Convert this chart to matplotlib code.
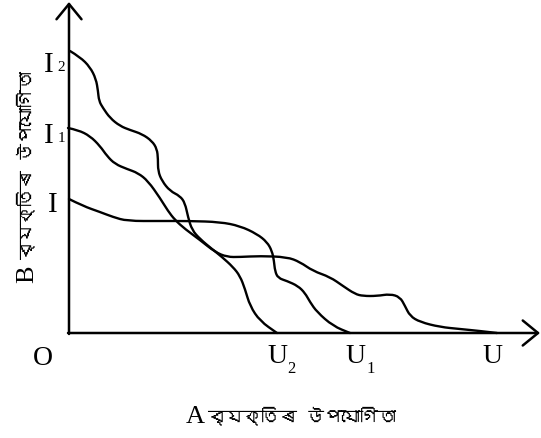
import matplotlib
matplotlib.use("Agg")
import matplotlib.pyplot as plt
from matplotlib import font_manager
from matplotlib.ft2font import FT2Font
from matplotlib.path import Path
from matplotlib.patches import PathPatch

# Indifference curves in utility space: x = utility of A, y = utility of B
curve_I_x = [0, 14, 31, 44, 58, 91, 121, 151, 171, 188, 198, 203, 205, 206, 209, 218, 229, 236, 241, 248, 264, 281]
curve_I_y = [134, 127, 121, 116, 112, 112, 112, 111, 107, 99, 91, 82, 72, 62, 55, 52, 47, 40, 31, 21, 7, 0]

curve_I1_x = [-1, 9, 21, 31, 38, 46, 58, 69, 79, 91, 99, 106, 116, 131, 146, 158, 171, 191, 218, 231, 244, 261,
              274, 286, 294, 308, 321, 331, 336, 341, 351, 371, 391, 411, 428]
curve_I1_y = [205, 203, 197, 187, 177, 169, 164, 160, 152, 135, 122, 113, 104, 93, 81, 76, 76, 77, 76, 71, 62, 56,
              47, 39, 37, 37, 39, 36, 27, 17, 11, 6, 4, 2, 0]

curve_I2_x = [1, 11, 21, 27, 29, 30, 34, 41, 51, 61, 73, 83, 88, 89, 89, 93, 101, 111, 116, 119, 123, 131, 143,
              153, 164, 171, 176, 181, 191, 208]
curve_I2_y = [282, 276, 266, 254, 242, 232, 225, 215, 207, 203, 199, 192, 184, 174, 162, 152, 142, 137, 130, 116,
              103, 94, 84, 76, 66, 57, 44, 27, 12, 0]

x_axis_end = 471
y_axis_end = 331

# Labels on the axes
curve_labels_y = [("I", "2", 262), ("I", "1", 191), ("I", "", 122)]
utility_labels_x = [("U", "2", 208), ("U", "1", 286.5), ("U", "", 423.5)]
origin_label = "O"
x_title_letter = "A"
x_title_text = "ব্যক্তিৰ উপযোগিতা"
y_title_letter = "B"
y_title_text = "ব্যক্তিৰ উপযোগিতা"


def family_with(ch):
    seen = set()
    for f in font_manager.fontManager.ttflist:
        if f.fname in seen:
            continue
        seen.add(f.fname)
        try:
            if ord(ch) in FT2Font(f.fname).get_charmap():
                return f.name
        except Exception:
            pass
    return None


def smooth_path(xs, ys):
    """Quadratic Bezier path using the given points as control points."""
    pts = list(zip(xs, ys))
    verts = [pts[0]]
    codes = [Path.MOVETO]
    for i in range(1, len(pts) - 1):
        mid = ((pts[i][0] + pts[i + 1][0]) / 2, (pts[i][1] + pts[i + 1][1]) / 2)
        verts += [pts[i], mid]
        codes += [Path.CURVE3, Path.CURVE3]
    verts.append(pts[-1])
    codes.append(Path.LINETO)
    return Path(verts, codes)


bengali = family_with("ব")
serif_fam = ["Liberation Serif", "DejaVu Serif"]
bn_fam = ([bengali] if bengali else []) + ["DejaVu Sans"]

fig = plt.figure(figsize=(5.41, 4.39), dpi=100)
ax = fig.add_axes([0, 0, 1, 1])
ax.set_xlim(-69, 472)
ax.set_ylim(-105, 334)
ax.axis("off")

for xs, ys in [(curve_I_x, curve_I_y), (curve_I1_x, curve_I1_y), (curve_I2_x, curve_I2_y)]:
    ax.add_patch(PathPatch(smooth_path(xs, ys), facecolor="none", edgecolor="black",
                           lw=1.7, capstyle="round", joinstyle="round"))

# Axes with open arrow heads
arrow = dict(arrowstyle="->,head_length=0.55,head_width=0.45", lw=1.8, color="black",
             shrinkA=0, shrinkB=0, mutation_scale=20)
ax.annotate("", xy=(0, y_axis_end), xytext=(0, -1), arrowprops=arrow)
ax.annotate("", xy=(x_axis_end, 0), xytext=(-1, 0), arrowprops=arrow)

for main, sub, y in curve_labels_y:
    xc = -20 if sub else -16.5
    ax.text(xc, y, main, ha="center", va="baseline", fontsize=21, family=serif_fam)
    if sub:
        ax.text(-11.5, y + 1, sub, ha="left", va="baseline", fontsize=11, family=serif_fam)

for main, sub, x in utility_labels_x:
    ax.text(x, -29, main, ha="center", va="baseline", fontsize=20, family=serif_fam)
    if sub:
        ax.text(x + 10.5, -39, sub, ha="left", va="baseline", fontsize=12, family=serif_fam)

ax.text(-26, -31, origin_label, ha="center", va="baseline", fontsize=20, family=serif_fam)

# Axis titles
ax.text(136, -89, x_title_letter, ha="right", va="baseline", fontsize=19, family=serif_fam)
ax.text(138, -89, x_title_text, ha="left", va="baseline", fontsize=13, family=bn_fam)
ax.text(-36, 51, y_title_letter, ha="left", va="baseline", rotation=90, rotation_mode="anchor",
        fontsize=19, family=serif_fam)
ax.text(-36, 74, y_title_text, ha="left", va="baseline", rotation=90, rotation_mode="anchor",
        fontsize=13, family=bn_fam)

fig.savefig("out.png", dpi=100)
